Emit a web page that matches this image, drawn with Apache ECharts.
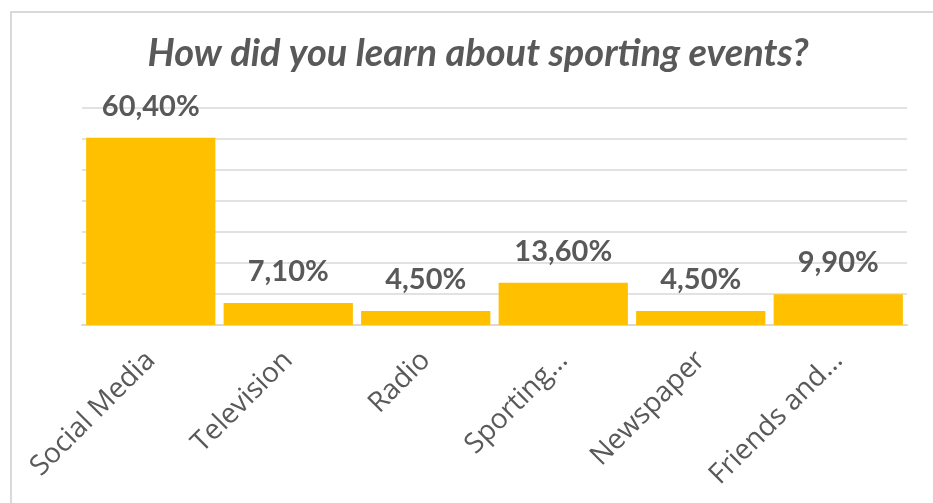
<!DOCTYPE html>
<html>
<head>
<meta charset="utf-8">
<script src="https://cdn.jsdelivr.net/npm/echarts@6/dist/echarts.min.js"></script>
<style>
html,body{margin:0;padding:0;background:#fff;}
#chart{width:933px;height:503px;}
</style>
</head>
<body>
<div id="chart"></div>
<script>
const titleText = 'How did you learn about sporting events?';
const categories = ['Social Media', 'Television', 'Radio', 'Sporting…', 'Newspaper', 'Friends and…'];
const values = [60.4, 7.1, 4.5, 13.6, 4.5, 9.9];
const yMin = 0, yMax = 70, yInterval = 10;

const chart = echarts.init(document.getElementById('chart'), null, {renderer: 'canvas'});
chart.setOption({
  animation: false,
  backgroundColor: '#ffffff',
  graphic: [{
    type: 'rect',
    shape: {x: 11, y: 12, width: 1000, height: 1000},
    style: {fill: 'none', stroke: '#D9D9D9', lineWidth: 2},
    silent: true
  }],
  title: {
    text: titleText,
    left: 473,
    textAlign: 'center',
    top: 30,
    textStyle: {
      fontFamily: 'Lato',
      fontStyle: 'italic',
      fontWeight: 'bold',
      fontSize: 38,
      color: '#595959'
    }
  },
  grid: {left: 82, right: 26, top: 108, bottom: 178, containLabel: false, outerBoundsMode: 'none'},
  xAxis: {
    type: 'category',
    data: categories,
    axisLine: {show: true, lineStyle: {color: '#D9D9D9', width: 2}},
    axisTick: {show: false},
    axisLabel: {
      interval: 0,
      rotate: 45,
      margin: 31,
      fontFamily: 'Open Sans',
      fontSize: 28,
      color: '#595959'
    }
  },
  yAxis: {
    type: 'value',
    min: yMin, max: yMax, interval: yInterval,
    axisLabel: {show: false},
    axisLine: {show: false},
    axisTick: {show: false},
    splitLine: {lineStyle: {color: '#D9D9D9', width: 1.5}}
  },
  series: [{
    type: 'bar',
    data: values,
    barCategoryGap: '6%',
    itemStyle: {color: '#FFC000'},
    label: {
      show: true,
      position: 'top',
      distance: 17,
      fontFamily: 'Lato',
      fontWeight: 'bold',
      fontSize: 29,
      color: '#595959',
      formatter: p => p.value.toFixed(2).replace('.', ',') + '%'
    }
  }]
});
</script>
</body>
</html>
